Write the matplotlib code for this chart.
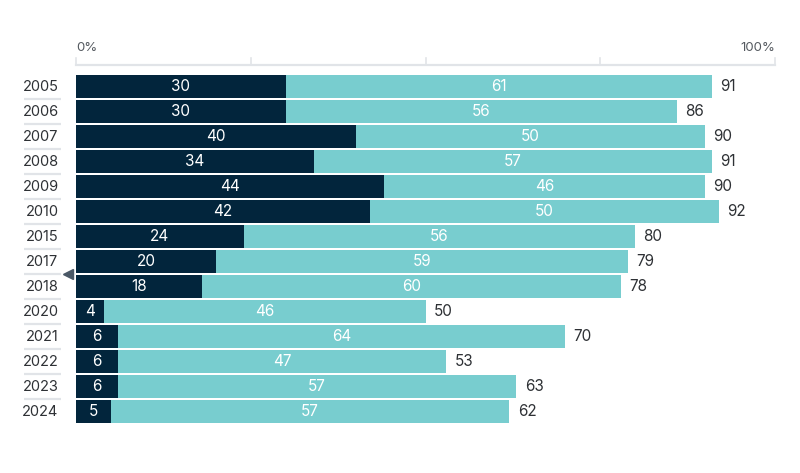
import numpy as np
import matplotlib.pyplot as plt

years = ["2005", "2006", "2007", "2008", "2009", "2010", "2015", "2017",
         "2018", "2020", "2021", "2022", "2023", "2024"]
dark_vals = [30, 30, 40, 34, 44, 42, 24, 20, 18, 4, 6, 6, 6, 5]
teal_vals = [61, 56, 50, 57, 46, 50, 56, 59, 60, 46, 64, 47, 57, 57]
totals = [91, 86, 90, 91, 90, 92, 80, 79, 78, 50, 70, 53, 63, 62]
tick_vals = [0, 25, 50, 75, 100]

plt.rcParams['font.family'] = ['Inter', 'DejaVu Sans']

DARK = '#02253c'
TEAL = '#78cdcf'
TXT = '#2e3135'
GRID = '#e1e4e8'

fig = plt.figure(figsize=(8, 4.73), dpi=100)
ax = fig.add_axes([76/800, 49/473, 699/800, 350/473])

y = np.arange(len(years))
ax.barh(y, dark_vals, height=0.95, color=DARK)
ax.barh(y, teal_vals, left=dark_vals, height=0.95, color=TEAL)

for i in range(len(years)):
    ax.text(dark_vals[i]/2, y[i], str(dark_vals[i]), ha='center', va='center',
            color='white', fontsize=11)
    ax.text(dark_vals[i] + teal_vals[i]/2, y[i], str(teal_vals[i]), ha='center',
            va='center', color='white', fontsize=11)
    ax.text(dark_vals[i] + teal_vals[i] + 1.2, y[i], str(totals[i]), ha='left',
            va='center', color=TXT, fontsize=11)
    # year labels
    ax.text(-2.5, y[i], years[i], ha='right', va='center', color=TXT,
            fontsize=10.5, clip_on=False)
    # separator under each label
    if i < len(years) - 1:
        ax.plot([-7.4, -2.2], [y[i] + 0.5, y[i] + 0.5], color=GRID, lw=1.6,
                clip_on=False, solid_capstyle='butt')

# top axis
ax_y = -0.86
ax.plot([0, 100], [ax_y, ax_y], color=GRID, lw=1.6, clip_on=False)
for t in tick_vals:
    ax.plot([t, t], [ax_y, ax_y - 0.3], color=GRID, lw=1.2, clip_on=False)
ax.text(0, -1.55, "0%", ha='left', va='center', color='#555a60', fontsize=9.5)
ax.text(100, -1.55, "100%", ha='right', va='center', color='#555a60', fontsize=9.5)

# small marker between 2017 and 2018
ax.plot([-1.1], [7.5], marker='<', markersize=7, color='#4a5866', clip_on=False)

ax.set_xlim(0, 100)
ax.set_ylim(len(years) - 0.5, -0.5)
ax.axis('off')

fig.savefig('out.png', dpi=100)
